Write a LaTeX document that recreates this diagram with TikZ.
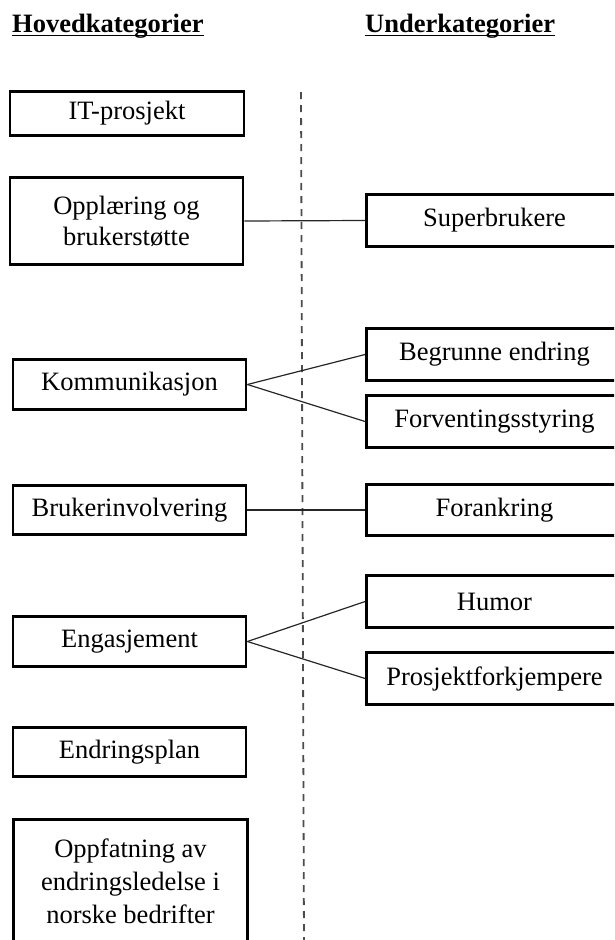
\documentclass[tikz,border=0pt]{standalone}
\usepackage{fontspec}
\setmainfont{Liberation Serif}
\begin{document}
\begin{tikzpicture}[x=1pt,y=-1pt,
    box/.style={draw,line width=2.8pt,align=center,inner sep=0pt,
      font=\fontsize{26.5}{31}\selectfont},
    hbox/.style={box,minimum width=233pt,minimum height=49.5pt},
    ubox/.style={box,minimum width=256pt,minimum height=51.5pt},
    head/.style={anchor=base west,inner sep=0pt,
      font=\fontsize{26.5}{31}\selectfont\bfseries},
    link/.style={line width=1.2pt,draw=black!85},
    divider/.style={line width=1.8pt,draw=black!70,dash pattern=on 7pt off 6pt}]
  \useasboundingbox (0,0) rectangle (614,940);
  \clip (0,0) rectangle (614,940);
  % headings
  \node[head] (hk) at (12,32.5) {Hovedkategorier};
  \node[head] (uk) at (365,32.5) {Underkategorier};
  \draw[line width=1.4pt] ([yshift=-3pt]hk.base west) -- ([yshift=-3pt]hk.base east);
  \draw[line width=1.4pt] ([yshift=-3pt]uk.base west) -- ([yshift=-3pt]uk.base east);
  % divider
  \coordinate (divtop) at (301,92);
  \coordinate (divbot) at (304,945);
  \draw[divider] (divtop) -- (divbot);
  % main categories
  \node[hbox,minimum width=234pt,minimum height=44.5pt] (it) at (127,113.5) {IT-prosjekt};
  \node[hbox,minimum width=233pt,minimum height=87.5pt] (opp) at (126.5,221) {Opplæring og\\brukerstøtte};
  \node[hbox] (kom) at (129.5,384.5) {Kommunikasjon};
  \node[hbox] (bru) at (129.5,510) {Brukerinvolvering};
  \node[hbox] (eng) at (129.5,641.5) {Engasjement};
  \node[hbox] (endr) at (129.5,752) {Endringsplan};
  \node[hbox,minimum width=234pt,minimum height=124.5pt,font=\fontsize{26.5}{33}\selectfont]
    (oppf) at (130.5,881.5) {Oppfatning av\\endringsledelse i\\norske bedrifter};
  % sub categories
  \node[ubox] (sup) at (494.5,220.5) {Superbrukere};
  \node[ubox] (beg) at (494.5,354.5) {Begrunne endring};
  \node[ubox] (forv) at (494.5,421.5) {Forventingsstyring};
  \node[ubox] (fora) at (494.5,510) {Forankring};
  \node[ubox] (hum) at (494.5,601.5) {Humor};
  \node[ubox] (pros) at (494.5,678.5) {Prosjektforkjempere};
  \begin{scope}[link]
    \draw (opp.east) -- (sup.west);
    \draw (kom.east) -- (beg.west);
    \draw (kom.east) -- (forv.west);
    \draw (bru.east) -- (fora.west);
    \draw (eng.east) -- (hum.west);
    \draw (eng.east) -- (pros.west);
  \end{scope}
\end{tikzpicture}
\end{document}
